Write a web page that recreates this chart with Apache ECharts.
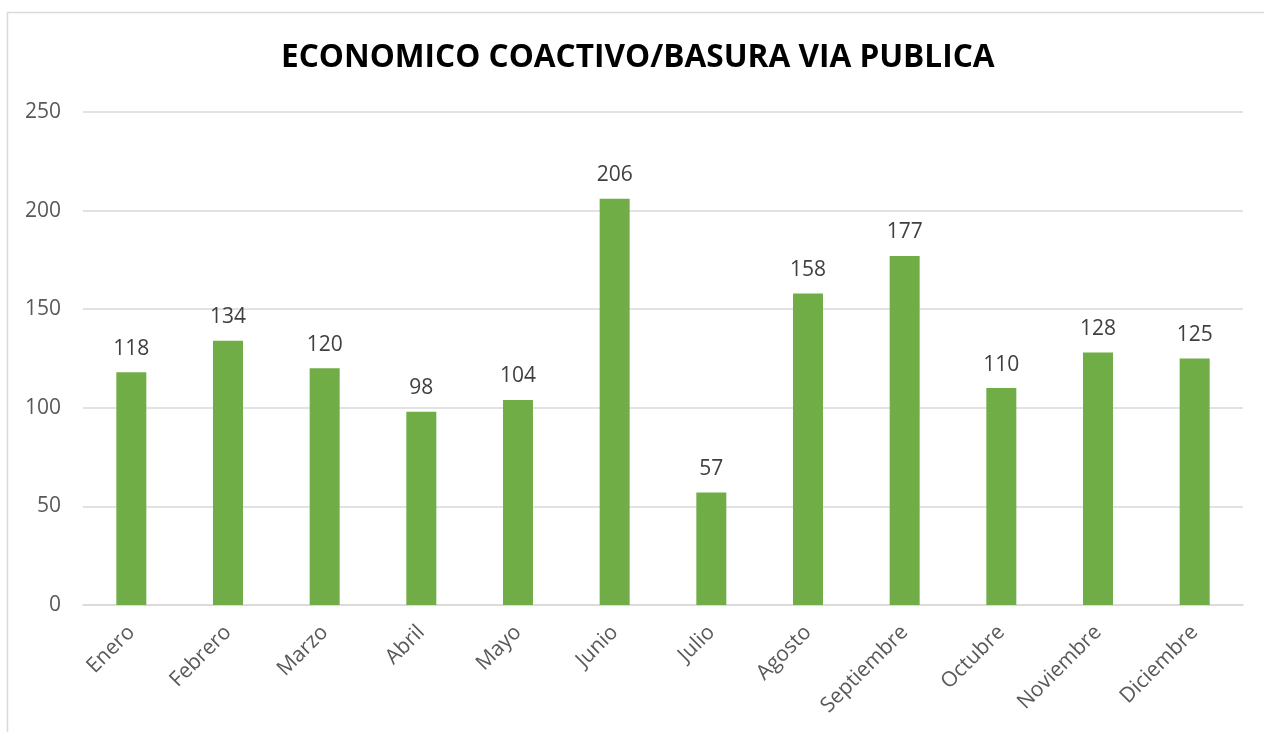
<!DOCTYPE html>
<html>
<head>
<meta charset="utf-8">
<script src="https://cdn.jsdelivr.net/npm/echarts@6/dist/echarts.min.js"></script>
<style>
html, body { margin: 0; padding: 0; background: #fff; }
#chart { width: 1264px; height: 732px; }
</style>
</head>
<body>
<div id="chart"></div>
<script>
var months = ['Enero', 'Febrero', 'Marzo', 'Abril', 'Mayo', 'Junio', 'Julio', 'Agosto', 'Septiembre', 'Octubre', 'Noviembre', 'Diciembre'];
var values = [118, 134, 120, 98, 104, 206, 57, 158, 177, 110, 128, 125];
var yTicks = [0, 50, 100, 150, 200, 250];

var myChart = echarts.init(document.getElementById('chart'));
var option = {
    animation: false,
    textStyle: { fontFamily: 'Open Sans' },
    title: {
        text: 'ECONOMICO COACTIVO/BASURA VIA PUBLICA',
        left: 276,
        top: 37,
        textStyle: {
            fontFamily: 'Open Sans',
            fontSize: 31.6,
            fontWeight: 'bold',
            color: '#000'
        }
    },
    graphic: [{
        type: 'rect',
        shape: { x: 7.5, y: 12.5, width: 1300, height: 800 },
        style: { fill: 'none', stroke: '#d9d9d9', lineWidth: 1.5 },
        silent: true
    }],
    grid: {
        left: 83,
        right: 21,
        top: 112,
        bottom: 127
    },
    xAxis: {
        type: 'category',
        data: months,
        axisTick: { show: false },
        axisLine: { lineStyle: { color: '#d9d9d9', width: 1.5 } },
        axisLabel: {
            rotate: 45,
            interval: 0,
            margin: 24,
            fontSize: 21,
            color: '#595959'
        }
    },
    yAxis: {
        type: 'value',
        min: yTicks[0],
        max: yTicks[yTicks.length - 1],
        interval: 50,
        axisLine: { show: false },
        axisTick: { show: false },
        axisLabel: {
            fontSize: 21,
            color: '#595959',
            margin: 22
        },
        splitLine: { lineStyle: { color: '#d9d9d9', width: 1.5 } }
    },
    series: [{
        type: 'bar',
        data: values,
        barWidth: 30,
        itemStyle: { color: '#70ad47' },
        label: {
            show: true,
            position: 'top',
            distance: 13,
            fontSize: 21,
            color: '#404040'
        }
    }]
};
myChart.setOption(option);
</script>
</body>
</html>
